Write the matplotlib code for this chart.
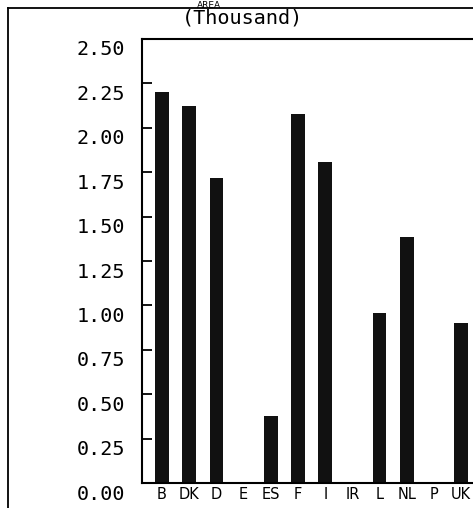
import matplotlib.pyplot as plt
import matplotlib.transforms as mtransforms
from matplotlib.lines import Line2D

# --- data (thousand) ---
countries = ['B', 'DK', 'D', 'E', 'ES', 'F', 'I', 'IR', 'L', 'NL', 'P', 'UK']
area = [2.20, 2.12, 1.72, 0.0, 0.38, 2.08, 1.81, 0.0, 0.955, 1.386, 0.0, 0.90]
y_ticks = [0.00, 0.25, 0.50, 0.75, 1.00, 1.25, 1.50, 1.75, 2.00, 2.25, 2.50]

fig = plt.figure(figsize=(4.73, 5.08), dpi=100)
ax = fig.add_axes([142 / 473, 1 - 483 / 508, 331 / 473, (483 - 39) / 508])

x = range(len(countries))
ax.bar(x, area, width=0.5, color='#111111', edgecolor='#111111', linewidth=0)

ax.set_xlim(-0.735, 11.43)
ax.set_ylim(0, 2.5)
ax.set_yticks(y_ticks)
ax.set_yticklabels([f"{v:.2f}" for v in y_ticks], family='DejaVu Sans Mono', fontsize=14.5)
ax.set_xticks(list(x))
ax.set_xticklabels(countries, family='DejaVu Sans', fontsize=10.5)

ax.tick_params(axis='y', direction='in', length=7, width=1.3, pad=12)
ax.tick_params(axis='x', length=0, pad=3)

# plotter style: value labels sit a little below their ticks
offset = mtransforms.ScaledTranslation(0, -9 / 100, fig.dpi_scale_trans)
for lab in ax.get_yticklabels():
    lab.set_transform(lab.get_transform() + offset)

for side in ['left', 'bottom', 'top']:
    ax.spines[side].set_linewidth(1.5)
ax.spines['right'].set_visible(False)

# titles
fig.text(242 / 473, 1 - 18 / 508, '(Thousand)', ha='center', va='center',
         family='DejaVu Sans Mono', fontsize=14.5)
fig.text(209 / 473, 1 - 0.5 / 508, 'AREA', ha='center', va='top',
         family='DejaVu Sans', fontsize=6.5)

# outer frame
fig.add_artist(Line2D([8 / 473, 8 / 473], [0, 1 - 8 / 508], color='black', lw=1.3,
                      transform=fig.transFigure))
fig.add_artist(Line2D([8 / 473, 1], [1 - 8 / 508, 1 - 8 / 508], color='black', lw=1.3,
                      transform=fig.transFigure))

fig.savefig('out.png', dpi=100)
